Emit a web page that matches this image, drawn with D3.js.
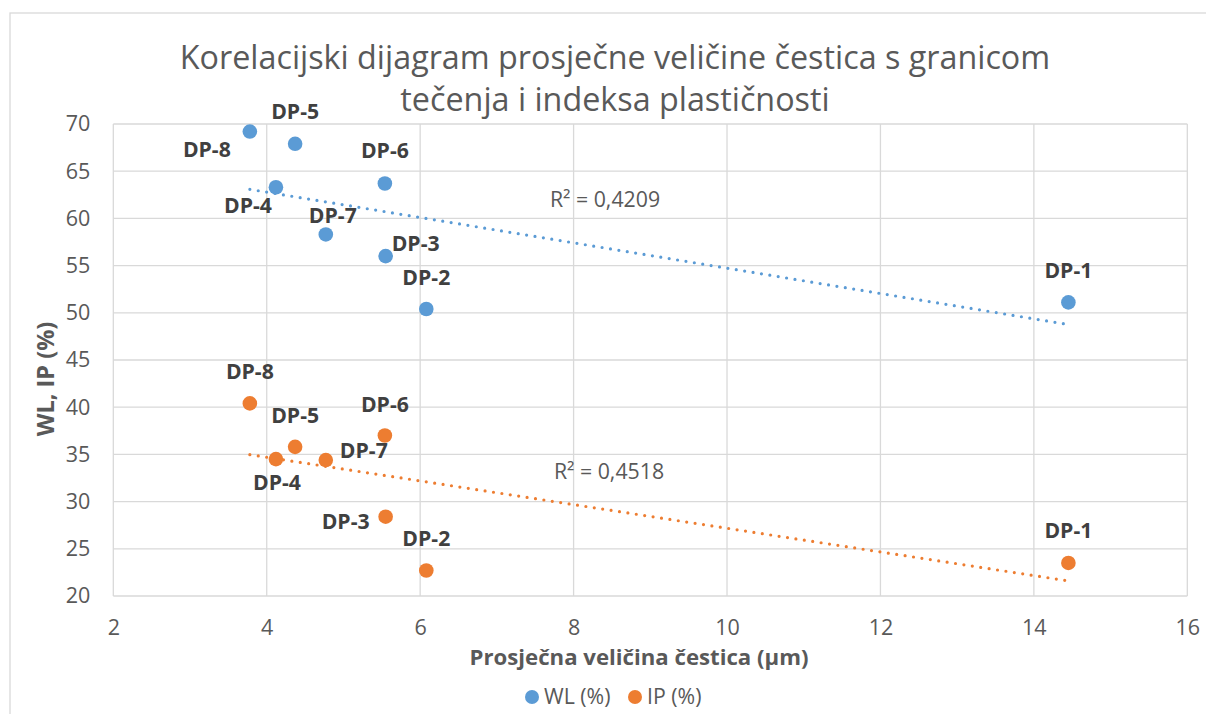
<!DOCTYPE html>
<html>
<head>
<meta charset="utf-8">
<script src="https://cdn.jsdelivr.net/npm/d3@7"></script>
<style>
  html, body { margin: 0; padding: 0; background: #fff; }
  svg { display: block; }
  text { font-family: "Open Sans", "Noto Sans", sans-serif; fill: #595959; }
</style>
</head>
<body>
<svg id="chart" width="1206" height="714"></svg>
<script>
// Samples
const sampleIds = ["DP-1", "DP-2", "DP-3", "DP-4", "DP-5", "DP-6", "DP-7", "DP-8"];
// Average particle size (µm)
const particleSize = [14.45, 6.08, 5.55, 4.12, 4.37, 5.54, 4.77, 3.78];
// Liquid limit WL (%)
const wlValues = [51.1, 50.4, 56.0, 63.3, 67.9, 63.7, 58.3, 69.2];
// Plasticity index IP (%)
const ipValues = [23.5, 22.7, 28.4, 34.5, 35.8, 37.0, 34.4, 40.4];
// Coefficients of determination shown next to the trend lines
const r2Labels = ["R² = 0,4209", "R² = 0,4518"];

const xTicks = [2, 4, 6, 8, 10, 12, 14, 16];
const yTicks = [20, 25, 30, 35, 40, 45, 50, 55, 60, 65, 70];

const titleLines = ["Korelacijski dijagram prosječne veličine čestica s granicom", "tečenja i indeksa plastičnosti"];
const xTitle = "Prosječna veličina čestica (µm)";
const yTitle = "WL, IP (%)";

// Label placement (pixel offsets from each marker)
const wlLabelOffset = [[0, -32], [0, -31], [30, -13], [-28, 18], [0, -32], [0, -33], [7, -19], [-43, 18]];
const ipLabelOffset = [[0, -32], [0, -32], [-40, 5], [1, 23], [0, -31], [0, -31], [38, -9], [0, -32]];

const series = [
  { name: "WL (%)", values: wlValues, color: "#5B9BD5", offsets: wlLabelOffset, r2: r2Labels[0], r2Pos: [605, 200] },
  { name: "IP (%)", values: ipValues, color: "#ED7D31", offsets: ipLabelOffset, r2: r2Labels[1], r2Pos: [609, 472] }
];

const svg = d3.select("#chart");
const plot = { left: 113.3, right: 1187.3, top: 124, bottom: 596 };

const x = d3.scaleLinear().domain([2, 16]).range([plot.left, plot.right]);
const y = d3.scaleLinear().domain([20, 70]).range([plot.bottom, plot.top]);

// Chart area frame
svg.append("rect")
  .attr("x", 10).attr("y", 13).attr("width", 1300).attr("height", 800)
  .attr("fill", "#fff").attr("stroke", "#D9D9D9").attr("stroke-width", 1.3);

// Title
const title = svg.append("text")
  .attr("text-anchor", "middle")
  .attr("font-size", 32.3);
titleLines.forEach((line, i) => {
  title.append("tspan").attr("x", 615).attr("y", 69 + i * 42).text(line);
});

// Gridlines
const grid = svg.append("g").attr("stroke", "#D9D9D9").attr("stroke-width", 1.3);
grid.selectAll("line.v").data(xTicks).join("line")
  .attr("x1", d => x(d)).attr("x2", d => x(d))
  .attr("y1", plot.top).attr("y2", plot.bottom);
grid.selectAll("line.h").data(yTicks).join("line")
  .attr("x1", plot.left).attr("x2", plot.right)
  .attr("y1", d => y(d)).attr("y2", d => y(d));

// Axes (labels only; lines drawn by the grid)
const xAxis = svg.append("g")
  .attr("transform", `translate(0,${plot.bottom})`)
  .call(d3.axisBottom(x).tickValues(xTicks).tickSize(0).tickPadding(24).tickFormat(d3.format("d")));
const yAxis = svg.append("g")
  .attr("transform", `translate(${plot.left},0)`)
  .call(d3.axisLeft(y).tickValues(yTicks).tickSize(0).tickPadding(23).tickFormat(d3.format("d")));
[xAxis, yAxis].forEach(a => {
  a.select(".domain").remove();
  a.selectAll("text").attr("font-size", 21.5).attr("fill", "#595959")
    .style("font-family", '"Open Sans", sans-serif');
});

// Axis titles
svg.append("text")
  .attr("x", 639).attr("y", 665)
  .attr("text-anchor", "middle")
  .attr("font-size", 22.2).attr("font-weight", "bold")
  .text(xTitle);
svg.append("text")
  .attr("transform", "translate(54,379) rotate(-90)")
  .attr("text-anchor", "middle")
  .attr("font-size", 23.5).attr("font-weight", "bold")
  .text(yTitle);

// Linear least-squares fit
function linearFit(xs, ys) {
  const mx = d3.mean(xs), my = d3.mean(ys);
  let sxy = 0, sxx = 0;
  xs.forEach((v, i) => { sxy += (v - mx) * (ys[i] - my); sxx += (v - mx) ** 2; });
  const slope = sxy / sxx;
  return { slope, intercept: my - slope * mx };
}

const [xMin, xMax] = d3.extent(particleSize);
const line = d3.line().x(d => x(d[0])).y(d => y(d[1]));

series.forEach(s => {
  const fit = linearFit(particleSize, s.values);
  const pts = [[xMin, fit.intercept + fit.slope * xMin], [xMax, fit.intercept + fit.slope * xMax]];
  svg.append("path")
    .attr("d", line(pts))
    .attr("fill", "none")
    .attr("stroke", s.color)
    .attr("stroke-width", 3.2)
    .attr("stroke-linecap", "round")
    .attr("stroke-dasharray", "0 8.5");

  svg.append("text")
    .attr("x", s.r2Pos[0]).attr("y", s.r2Pos[1])
    .attr("dy", "0.35em")
    .attr("text-anchor", "middle")
    .attr("font-size", 21.3)
    .text(s.r2);
});

series.forEach(s => {
  const pts = particleSize.map((px, i) => ({ id: sampleIds[i], x: px, y: s.values[i], off: s.offsets[i] }));
  svg.append("g").selectAll("circle").data(pts).join("circle")
    .attr("cx", d => x(d.x)).attr("cy", d => y(d.y))
    .attr("r", 7.3)
    .attr("fill", s.color);
  svg.append("g").selectAll("text").data(pts).join("text")
    .attr("x", d => x(d.x) + d.off[0])
    .attr("y", d => y(d.y) + d.off[1])
    .attr("dy", "0.35em")
    .attr("text-anchor", "middle")
    .attr("font-size", 21.2).attr("font-weight", "bold")
    .style("fill", "#404040")
    .text(d => d.id);
});

// Legend
const legend = svg.append("g");
const legendX = [532, 635];
series.forEach((s, i) => {
  legend.append("circle").attr("cx", legendX[i]).attr("cy", 697).attr("r", 7).attr("fill", s.color);
  legend.append("text").attr("x", legendX[i] + 12).attr("y", 697).attr("dy", "0.35em")
    .attr("font-size", 21.3).text(s.name);
});
</script>
</body>
</html>
